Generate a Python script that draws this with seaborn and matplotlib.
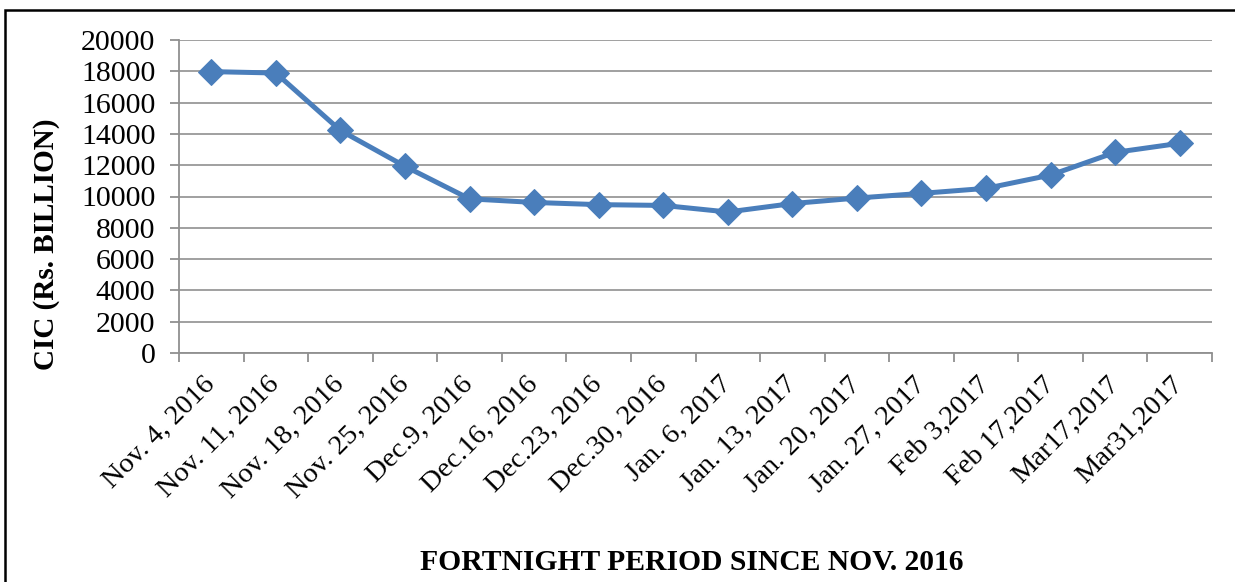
import pandas as pd
import matplotlib.pyplot as plt
import seaborn as sns
from matplotlib.patches import Rectangle

# Dados
periods = ["Nov. 4, 2016", "Nov. 11, 2016", "Nov. 18, 2016", "Nov. 25, 2016",
           "Dec.9, 2016", "Dec.16, 2016", "Dec.23, 2016", "Dec.30, 2016",
           "Jan. 6, 2017", "Jan. 13, 2017", "Jan. 20, 2017", "Jan. 27, 2017",
           "Feb 3,2017", "Feb 17,2017", "Mar17,2017", "Mar31,2017"]
cic = [17980, 17890, 14220, 11930, 9850, 9620, 9480, 9430,
       9010, 9550, 9900, 10200, 10520, 11370, 12820, 13400]
y_ticks = [0, 2000, 4000, 6000, 8000, 10000, 12000, 14000, 16000, 18000, 20000]

df = pd.DataFrame({"period": periods, "cic": cic})

sns.set_style("white")
plt.rcParams["font.family"] = ["Liberation Serif", "DejaVu Serif"]
plt.rcParams["text.color"] = "black"
plt.rcParams["xtick.labelcolor"] = "black"
plt.rcParams["ytick.labelcolor"] = "black"

fig = plt.figure(figsize=(12.35, 5.82), dpi=100)
ax = fig.add_axes([179 / 1235, 1 - 353 / 582, (1212 - 179) / 1235, 313 / 582])

sns.lineplot(data=df, x="period", y="cic", sort=False, ax=ax,
             color="#4a7ebb", linewidth=3.6, marker="D", markersize=13,
             markeredgecolor="#4a7ebb")

ax.set_xlim(-0.5, len(periods) - 0.5)
ax.set_ylim(0, 20000)
ax.set_yticks(y_ticks)
ax.set_yticklabels([str(v) for v in y_ticks], fontsize=21.5)
ax.yaxis.grid(True, color="#a0a0a0", linewidth=1.4)
ax.set_axisbelow(True)

# rótulos nas categorias, traços nas fronteiras
ax.set_xticks(range(len(periods)))
ax.set_xticklabels(periods, rotation=45, ha="right", va="center",
                   rotation_mode="anchor", fontsize=20.5)
ax.set_xticks([i - 0.5 for i in range(len(periods) + 1)], minor=True)
ax.tick_params(axis="x", which="major", length=0, pad=20, labelcolor="black")
ax.tick_params(axis="x", which="minor", length=6.5, color="#909090", width=1.3, direction="out", bottom=True)
ax.tick_params(axis="y", length=6.5, color="#909090", width=1.3, direction="out", left=True, pad=10.5, labelcolor="black")

for s in ["top", "right"]:
    ax.spines[s].set_visible(False)
for s in ["left", "bottom"]:
    ax.spines[s].set_color("#909090")
    ax.spines[s].set_linewidth(1.3)

ax.set_xlabel("")
ax.set_ylabel("")
fig.text(47 / 1235, 1 - 244 / 582, "CIC (Rs. BILLION)", rotation=90,
         ha="center", va="center", fontsize=21, fontweight="bold", color="black")
fig.text(692 / 1235, 1 - 562 / 582, "FORTNIGHT PERIOD SINCE NOV. 2016",
         ha="center", va="center", fontsize=21.3, fontweight="bold", color="black")

# moldura
fig.patches.append(Rectangle((5 / 1235, -0.1), 1.1, 1 - 10 / 582 + 0.1,
                             transform=fig.transFigure, fill=False,
                             edgecolor="black", linewidth=1.8))

fig.savefig("out.png", dpi=100)
